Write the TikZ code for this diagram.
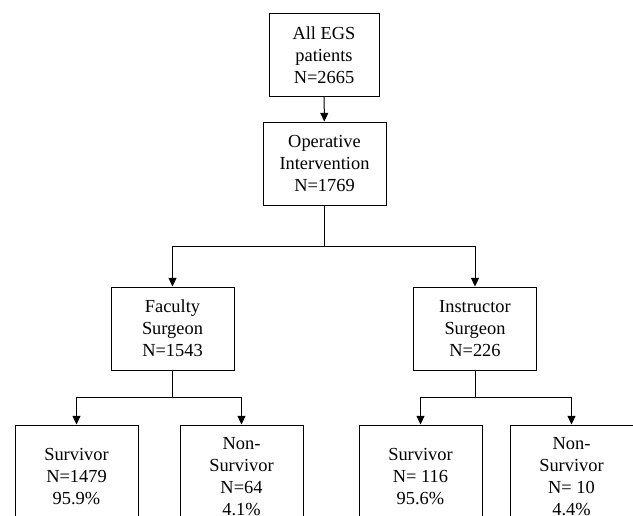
\documentclass[tikz,border=0pt]{standalone}
\usepackage{fontspec}
\setmainfont{Liberation Serif}
\usetikzlibrary{arrows.meta}
\begin{document}
\begin{tikzpicture}[x=0.75pt,y=-0.75pt,
  box/.style={draw,line width=0.75pt,align=center,inner sep=0pt,
    font=\fontsize{13.8}{16.5}\selectfont,minimum width=92.25pt,minimum height=62.25pt},
  leaf/.style={box,minimum height=78pt},
  arr/.style={line width=0.75pt,-{Triangle[length=6.5pt,width=6pt]}},
  ln/.style={line width=0.75pt}]
\useasboundingbox (0,0) rectangle (633,515);
\clip (0,0) rectangle (633,515);
\fill[white] (0,0) rectangle (633,515);
\node[box,minimum width=82.5pt] (all) at (324,55) {All EGS\\patients\\N=2665};
\node[box] (op) at (324.5,163.5) {Operative\\Intervention\\N=1769};
\node[box] (fac) at (172.5,328.5) {Faculty\\Surgeon\\N=1543};
\node[box] (ins) at (475,328.5) {Instructor\\Surgeon\\N=226};
\node[leaf] (s1) at (76.5,477) {Survivor\\N=1479\\95.9\%};
\node[leaf] (n1) at (241.5,477) {Non-\\Survivor\\N=64\\4.1\%};
\node[leaf] (s2) at (420.5,477) {Survivor\\N= 116\\95.6\%};
\node[leaf] (n2) at (571.5,477) {Non-\\Survivor\\N= 10\\4.4\%};
\draw[arr] (all) -- (op);
\coordinate (j1) at (324.5,246);
\coordinate (j2) at (172.5,397);
\coordinate (j3) at (475,397);
\draw[ln] (op.south) -- (j1);
\draw[arr] (j1) -| (fac.north);
\draw[arr] (j1) -| (ins.north);
\draw[ln] (fac.south) -- (j2);
\draw[arr] (j2) -| (s1.north);
\draw[arr] (j2) -| (n1.north);
\draw[ln] (ins.south) -- (j3);
\draw[arr] (j3) -| (s2.north);
\draw[arr] (j3) -| (n2.north);
\end{tikzpicture}
\end{document}
